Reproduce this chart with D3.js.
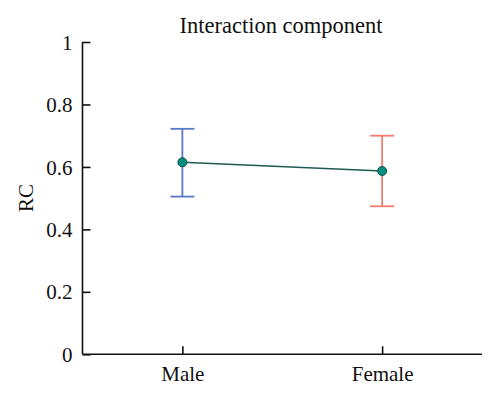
<!DOCTYPE html>
<html><head><meta charset="utf-8">
<script src="https://cdn.jsdelivr.net/npm/d3@7"></script>
<style>body{margin:0;background:#fff}svg{display:block}</style>
</head><body>
<script>
const categories = ["Male", "Female"];
const means = [0.615, 0.587];
const upper = [0.722, 0.700];
const lower = [0.505, 0.474];
const yTicks = [0, 0.2, 0.4, 0.6, 0.8, 1];
const yTickLabels = ["0", "0.2", "0.4", "0.6", "0.8", "1"];
const errColors = ["#5b78c6", "#f47b6e"];
const title = "Interaction component";
const yLabel = "RC";

const W = 500, H = 399;
const svg = d3.select("body").append("svg").attr("width", W).attr("height", H);
const font = "Liberation Serif, DejaVu Serif, serif";

const x = d3.scalePoint().domain(categories).range([82.5, 482]).padding(0.5);
const y = d3.scaleLinear().domain([0, 1]).range([354.3, 42]);

// axes
const yAxis = d3.axisLeft(y).tickValues(yTicks).tickFormat((d, i) => yTickLabels[i]).tickSizeInner(-8).tickSizeOuter(0).tickPadding(10);
const gy = svg.append("g").attr("transform", "translate(82.5,0)").call(yAxis);
const xAxis = d3.axisBottom(x).tickSizeInner(-8).tickSizeOuter(0).tickPadding(12);
const gx = svg.append("g").attr("transform", "translate(0,354.3)").call(xAxis);
[gy, gx].forEach(g => {
  g.attr("font-family", font).attr("font-size", 21);
  g.select(".domain").attr("stroke", "#111").attr("stroke-width", 1.6);
  g.selectAll(".tick line").attr("stroke", "#111").attr("stroke-width", 1.6);
  g.selectAll(".tick text").attr("fill", "#111").attr("font-family", font).attr("font-size", 21);
});
gy.select(".domain").attr("d", `M0,${y(1)}V${y(0)}`);
gx.select(".domain").attr("d", `M82.5,0H482`);
gy.selectAll(".tick text").attr("dy", "0.34em");
gx.selectAll(".tick text").attr("dy", "0.71em").attr("y", 12);

// error bars
const data = categories.map((c, i) => ({c, m: means[i], u: upper[i], l: lower[i], col: errColors[i]}));
const eb = svg.append("g").selectAll("g").data(data).join("g");
eb.append("line").attr("x1", d => x(d.c)).attr("x2", d => x(d.c)).attr("y1", d => y(d.u)).attr("y2", d => y(d.l)).attr("stroke", d => d.col).attr("stroke-width", 1.8);
eb.append("line").attr("x1", d => x(d.c) - 12).attr("x2", d => x(d.c) + 12).attr("y1", d => y(d.u)).attr("y2", d => y(d.u)).attr("stroke", d => d.col).attr("stroke-width", 1.8);
eb.append("line").attr("x1", d => x(d.c) - 12).attr("x2", d => x(d.c) + 12).attr("y1", d => y(d.l)).attr("y2", d => y(d.l)).attr("stroke", d => d.col).attr("stroke-width", 1.8);

// line
svg.append("path").datum(data).attr("fill", "none").attr("stroke", "#1f5a52").attr("stroke-width", 1.6)
  .attr("d", d3.line().x(d => x(d.c)).y(d => y(d.m)));

// points
svg.append("g").selectAll("circle").data(data).join("circle")
  .attr("cx", d => x(d.c)).attr("cy", d => y(d.m)).attr("r", 4.5)
  .attr("fill", "#009080").attr("stroke", "#174a44").attr("stroke-width", 1);

// title
svg.append("text").attr("x", 281).attr("y", 33).attr("text-anchor", "middle")
  .attr("font-family", font).attr("font-size", 22.5).attr("fill", "#111").text(title);
// y label
svg.append("text").attr("transform", "translate(33,198) rotate(-90)").attr("text-anchor", "middle")
  .attr("font-family", font).attr("font-size", 21).attr("fill", "#111").text(yLabel);
</script>
</body></html>
